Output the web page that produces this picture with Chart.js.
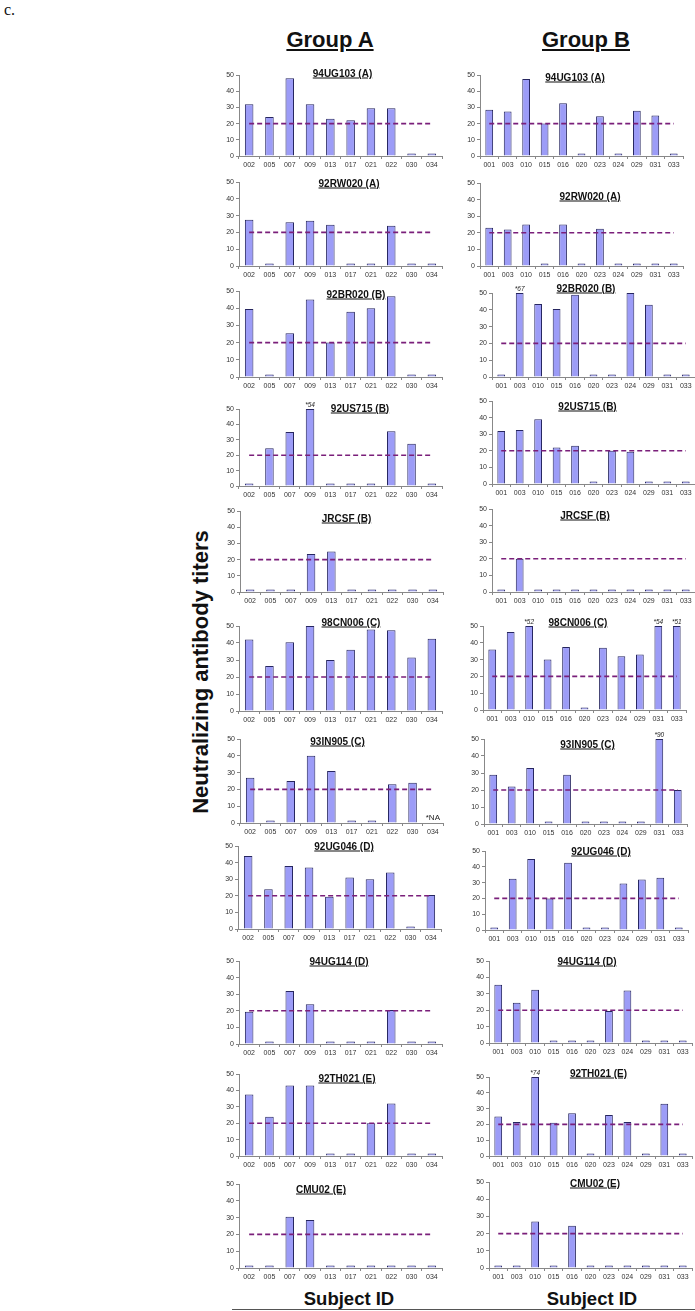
<!DOCTYPE html>
<html>
<head>
<meta charset="utf-8">
<script src="https://cdn.jsdelivr.net/npm/chart.js@4/dist/chart.umd.min.js"></script>
<style>
  body { margin: 0; background: #fff; width: 695px; height: 1311px; position: relative; overflow: hidden;
         font-family: "Liberation Sans", Arial, sans-serif; color: #111; }
  canvas { position: absolute; }
  .txt { position: absolute; white-space: nowrap; transform: translate(-50%, -50%); }
  .ptitle { font-size: 10px; font-weight: bold; text-decoration: underline; }
  .head { font-size: 22px; font-weight: bold; text-decoration: underline; }
  .foot { font-size: 18.5px; font-weight: bold; }
  .ytitle { font-size: 22px; font-weight: bold; transform: translate(-50%, -50%) rotate(-90deg); }
  .panel-tag { position: absolute; left: 4px; top: 1px; font: 16px "Liberation Serif", "Times New Roman", serif; }
  .rule { position: absolute; left: 232px; top: 1309px; width: 463px; height: 1px; background: #555; }
</style>
</head>
<body>
<div class="panel-tag">c.</div>
<div class="txt head" style="left:330px;top:40px">Group A</div>
<div class="txt head" style="left:586px;top:40px">Group B</div>
<div class="txt ytitle" style="left:201px;top:672px">Neutralizing antibody titers</div>
<div class="txt foot" style="left:349px;top:1299px">Subject ID</div>
<div class="txt foot" style="left:592px;top:1299px">Subject ID</div>
<div class="rule"></div>

<script>
// subject IDs on the x axes
const subjectsA = ['002', '005', '007', '009', '013', '017', '021', '022', '030', '034'];
const subjectsB = ['001', '003', '010', '015', '016', '020', '023', '024', '029', '031', '033'];

// virus panels, top to bottom
const viruses = ['94UG103 (A)', '92RW020 (A)', '92BR020 (B)', '92US715 (B)', 'JRCSF (B)', '98CN006 (C)',
                 '93IN905 (C)', '92UG046 (D)', '94UG114 (D)', '92TH021 (E)', 'CMU02 (E)'];

const yTicks = [0, 10, 20, 30, 40, 50];
const yMax = 50;
const cutoff = 20;

// Group A titers (null = not available)
const A_94UG103 = [32, 24, 48, 32, 23, 22, 29.5, 29.5, 1, 1];
const A_92RW020 = [27.5, 1, 26, 27, 24.5, 1, 1, 24, 1, 1];
const A_92BR020 = [39.5, 1, 25.5, 45, 20, 38, 40, 47, 1, 1];
const A_92US715 = [1, 24.5, 35, 54, 1, 1, 1, 35.5, 27.5, 1];
const A_JRCSF = [1, 1, 1, 23.5, 25, 1, 1, 1, 1, 1];
const A_98CN006 = [42, 26.5, 40.5, 50, 30, 36, 48, 47.5, 31.5, 42.5];
const A_93IN905 = [27, 1, 25, 40, 31, 1, 1, 23, 24, null];
const A_92UG046 = [44, 24, 38, 37, 19.5, 31, 30, 34, 1, 20.5];
const A_94UG114 = [19.5, 1, 32, 24, 1, 1, 1, 20.5, 1, 1];
const A_92TH021 = [37.5, 24, 43, 43, 1, 1, 20, 32, 1, 1];
const A_CMU02 = [1, 1, 30.5, 28.5, 1, 1, 1, 1, 1, 1];

// Group B titers
const B_94UG103 = [28.5, 27.5, 47.5, 20, 32.5, 1, 24.5, 1, 28, 25, 1];
const B_92RW020 = [23, 22, 25, 1, 25, 1, 22.5, 1, 1, 1, 1];
const B_92BR020 = [1, 67, 43.5, 40.5, 49, 1, 1, 50, 43, 1, 1];
const B_92US715 = [32, 32.5, 39, 22, 23, 1, 20, 19.5, 1, 1, 1];
const B_JRCSF = [1, 20, 1, 1, 1, 1, 1, 1, 1, 1, 1];
const B_98CN006 = [36, 46.5, 52, 30, 37.5, 1, 37, 32, 33, 54, 51];
const B_93IN905 = [29, 22, 33, 1, 29, 1, 1, 1, 1, 90, 20];
const B_92UG046 = [1, 32.5, 45, 20, 42.5, 1, 1, 29.5, 32, 33, 1];
const B_94UG114 = [35.5, 24.5, 32.5, 1, 1, 1, 19.5, 32, 1, 1, 1];
const B_92TH021 = [25, 21.5, 74, 21, 27, 1, 26, 21.5, 1, 33, 1];
const B_CMU02 = [1, 1, 27, 1, 24.5, 1, 1, 1, 1, 1, 1];

const groupA = [A_94UG103, A_92RW020, A_92BR020, A_92US715, A_JRCSF, A_98CN006,
                A_93IN905, A_92UG046, A_94UG114, A_92TH021, A_CMU02];
const groupB = [B_94UG103, B_92RW020, B_92BR020, B_92US715, B_JRCSF, B_98CN006,
                B_93IN905, B_92UG046, B_94UG114, B_92TH021, B_CMU02];

// page layout (pixels): y of the 50 line and the 0 line, plot left edge, title centres
const topA = [75, 181.7, 290.7, 409, 510.7, 625.7, 739, 845.7, 960.7, 1074, 1184];
const baseA = [155.7, 265.7, 377, 486, 592, 710.7, 822.7, 929, 1044, 1156, 1268];
const topB = [75, 183, 293, 400.7, 509, 626, 739, 851, 960.7, 1076.7, 1182];
const baseB = [156.3, 265.7, 377, 484, 592, 710, 823.7, 930, 1043, 1156, 1268];
const leftA = [239, 239, 239, 239, 240, 239, 240, 238, 239, 239, 239];
const leftB = [480, 480, 492, 492, 492, 483, 484, 485, 489, 489, 489];
const titleXA = [342.5, 349, 356, 360, 346.5, 351, 337.5, 344, 339, 347, 321];
const titleYA = [73, 183, 294, 407.5, 518, 622, 741, 846, 960.5, 1077.5, 1189];
const titleXB = [575, 590, 586, 587.5, 585, 578, 587.5, 601, 587, 598.5, 595];
const titleYB = [76.5, 196, 287.5, 406, 514.5, 622, 744, 851, 960.5, 1073, 1182.5];

Chart.defaults.font.family = '"Liberation Sans", Arial, sans-serif';
Chart.defaults.font.size = 7;
Chart.defaults.color = '#333';

// writes "*67" over capped bars and "*NA" for missing values
const markPlugin = {
    id: 'marks',
    afterDatasetsDraw(chart) {
        const raw = chart.options.plugins.marks.raw;
        const ctx = chart.ctx;
        const x = chart.scales.x;
        const y = chart.scales.y;
        ctx.save();
        ctx.fillStyle = '#222';
        ctx.textAlign = 'center';
        ctx.textBaseline = 'bottom';
        raw.forEach((v, i) => {
            if (v === null) {
                ctx.font = '8px "Liberation Sans", Arial, sans-serif';
                ctx.fillText('*NA', x.getPixelForValue(i), y.getPixelForValue(0) - 1);
            } else if (v > yMax) {
                ctx.font = 'italic 6.5px "Liberation Sans", Arial, sans-serif';
                ctx.fillText('*' + v, x.getPixelForValue(i), chart.chartArea.top - 0.5);
            }
        });
        ctx.restore();
    }
};

function drawPanel(isA, row) {
    const labels = isA ? subjectsA : subjectsB;
    const raw = (isA ? groupA : groupB)[row];
    const top = (isA ? topA : topB)[row];
    const base = (isA ? baseA : baseB)[row];
    const left = (isA ? leftA : leftB)[row];
    const plotW = 203, padTop = 10, yW = 20, xH = 16;
    const cw = yW + plotW + 1;
    const ch = Math.round(padTop + (base - top) + xH);

    const cv = document.createElement('canvas');
    cv.width = cw;
    cv.height = ch;
    cv.style.left = (left - yW) + 'px';
    cv.style.top = (top - padTop) + 'px';
    cv.style.width = cw + 'px';
    cv.style.height = ch + 'px';
    document.body.appendChild(cv);

    const t = document.createElement('div');
    t.className = 'txt ptitle';
    t.textContent = viruses[row];
    t.style.left = (isA ? titleXA : titleXB)[row] + 'px';
    t.style.top = (isA ? titleYA : titleYB)[row] + 'px';
    document.body.appendChild(t);

    new Chart(cv, {
        type: 'bar',
        data: {
            labels: labels,
            datasets: [{
                type: 'line',
                data: labels.map(() => cutoff),
                borderColor: '#7a1f7a',
                borderWidth: 1.6,
                borderDash: [5, 3],
                pointRadius: 0,
                fill: false,
                order: 0
            }, {
                type: 'bar',
                // bars above 50 are cut at the top of the axis, the real value is written over them
                data: raw.map(v => v === null ? null : Math.min(v, yMax)),
                backgroundColor: '#9c9cf7',
                borderColor: '#262660',
                borderWidth: 1,
                borderSkipped: 'bottom',
                minBarLength: 2.5,
                categoryPercentage: 1,
                barPercentage: 0.42,
                order: 1
            }]
        },
        options: {
            responsive: false,
            animation: false,
            devicePixelRatio: 1,
            layout: { padding: { top: padTop, right: 1, left: 0, bottom: 0 } },
            plugins: {
                legend: { display: false },
                tooltip: { enabled: false },
                marks: { raw: raw }
            },
            scales: {
                x: {
                    grid: { drawOnChartArea: false, tickLength: 3, color: '#888', offset: true },
                    border: { color: '#888' },
                    ticks: { padding: 2, maxRotation: 0, autoSkip: false, color: '#333' },
                    afterFit: s => { s.height = xH; }
                },
                y: {
                    min: 0,
                    max: yMax,
                    afterBuildTicks: s => { s.ticks = yTicks.map(v => ({ value: v })); },
                    grid: { drawOnChartArea: false, tickLength: 3, color: '#888' },
                    border: { color: '#888' },
                    ticks: { padding: 2, color: '#333' },
                    afterFit: s => { s.width = yW; }
                }
            }
        },
        plugins: [markPlugin]
    });
}

for (let r = 0; r < viruses.length; r++) {
    drawPanel(true, r);
    drawPanel(false, r);
}
</script>
</body>
</html>
